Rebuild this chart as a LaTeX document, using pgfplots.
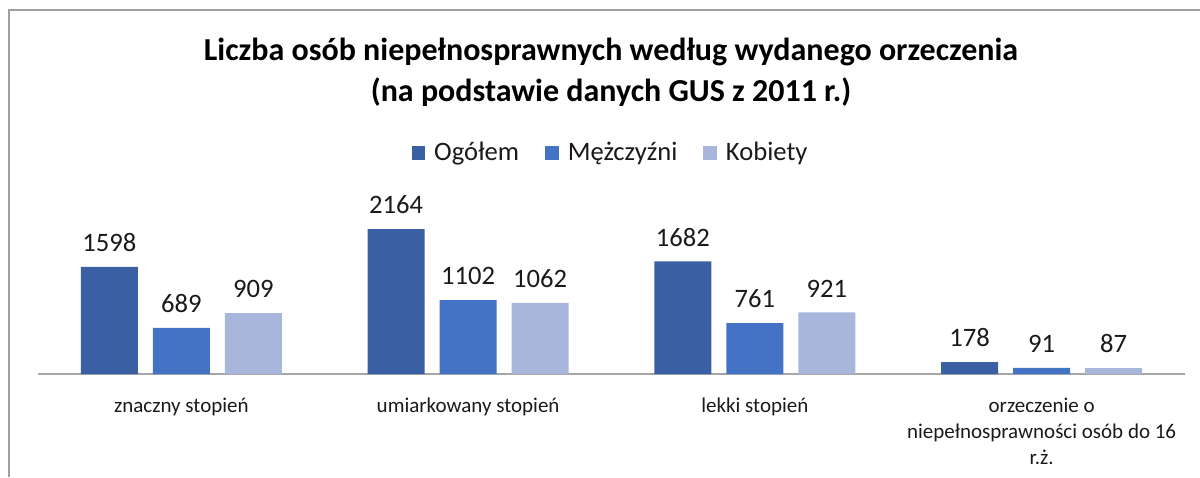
\documentclass[border=0pt]{standalone}
\usepackage{pgfplots}
\pgfplotsset{compat=1.18}
\usepackage{fontspec}
\setmainfont{Carlito}
\definecolor{cA}{HTML}{3A5FA2}
\definecolor{cB}{HTML}{4472C4}
\definecolor{cC}{HTML}{A8B6DB}
\definecolor{frame}{HTML}{A0A0A0}
\definecolor{axl}{HTML}{A6A6A6}
\definecolor{txt}{HTML}{1A1A1A}
\begin{document}
\begin{tikzpicture}[x=0.5pt,y=0.5pt]
\useasboundingbox (0,0) rectangle (1200,477);
\draw[frame,line width=1pt] (9,0) -- (9,467) -- (1200,467);
\node[font=\fontsize{16}{19}\selectfont\bfseries] at (611,425) {Liczba osób niepełnosprawnych według wydanego orzeczenia};
\node[font=\fontsize{16}{19}\selectfont\bfseries] at (611,385) {(na podstawie danych GUS z 2011 r.)};
\begin{axis}[
  at={(19pt,51.5pt)}, anchor=south west,
  scale only axis,
  width=573.5pt, height=83.75pt,
  xmin=-0.5, xmax=3.5, ymin=0, ymax=2500,
  ybar=7.5pt, bar width=28.5pt,
  axis y line=none,
  axis x line*=bottom,
  x axis line style={axl, line width=1pt, -},
  xtick=data,
  xticklabels={znaczny stopień, umiarkowany stopień, lekki stopień, {orzeczenie o\\niepełnosprawności osób do 16\\r.ż.}},
  xticklabel style={align=center, font=\fontsize{10.5}{13}\selectfont, text=txt, yshift=-8.5pt},
  major tick length=0pt,
  /pgf/number format/assume math mode=true,
  /pgf/number format/1000 sep={},
  nodes near coords,
  every node near coord/.append style={font=\fontsize{13.3}{15}\selectfont, text=txt, yshift=4pt},
  legend style={at={(0.5,1.319)}, anchor=center, draw=none, legend columns=3,
    font=\fontsize{13.3}{15}\selectfont, text=txt,
    /tikz/every even column/.append style={column sep=11pt}},
  legend image code/.code={\fill[#1] (0pt,-3.4pt) rectangle (6.8pt,3.4pt); \path (9.3pt,0pt);},
]
\addplot[fill=cA, draw=none] coordinates {(0,1598) (1,2164) (2,1682) (3,178)};
\addplot[fill=cB, draw=none] coordinates {(0,689) (1,1102) (2,761) (3,91)};
\addplot[fill=cC, draw=none] coordinates {(0,909) (1,1062) (2,921) (3,87)};
\legend{Ogółem, Mężczyźni, Kobiety}
\end{axis}
\end{tikzpicture}
\end{document}
